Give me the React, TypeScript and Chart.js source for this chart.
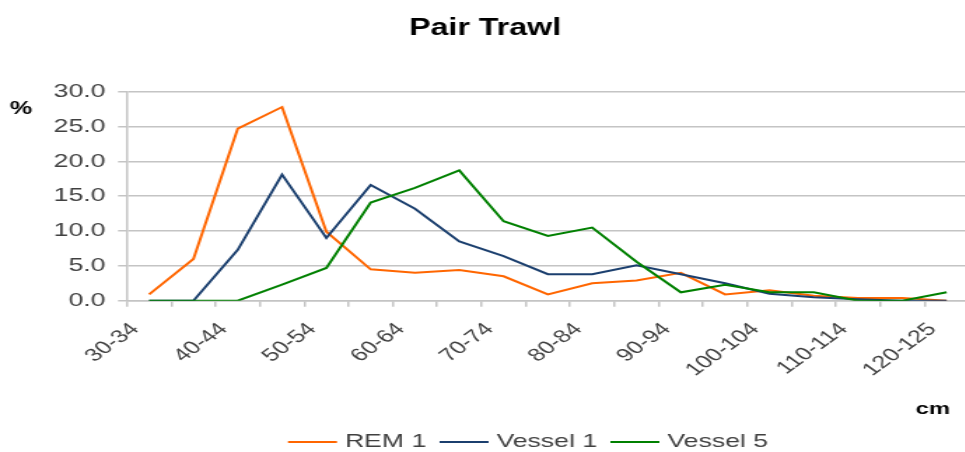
import React, { useEffect, useRef } from 'react';
import { Chart, registerables } from 'chart.js';

Chart.register(...registerables);

const categories = [
  '30-34', '35-39', '40-44', '45-49', '50-54', '55-59', '60-64', '65-69', '70-74', '75-79',
  '80-84', '85-89', '90-94', '95-99', '100-104', '105-109', '110-114', '115-119', '120-125',
];
const rem1 = [0.9, 6.0, 24.7, 27.8, 9.9, 4.5, 4.0, 4.4, 3.5, 0.9, 2.5, 2.9, 4.0, 0.9, 1.5, 0.7, 0.4, 0.4, 0.0];
const vessel1 = [0, 0, 7.3, 18.1, 9.0, 16.6, 13.2, 8.5, 6.4, 3.8, 3.8, 5.1, 3.8, 2.5, 1.0, 0.5, 0.2, 0.0, 0.0];
const vessel5 = [0, 0, 0, 2.3, 4.7, 14.1, 16.2, 18.7, 11.4, 9.3, 10.5, 5.6, 1.2, 2.3, 1.2, 1.2, 0, 0, 1.2];
const seriesNames = ['REM 1', 'Vessel 1', 'Vessel 5'];
const seriesColors = ['#FF6600', '#1B3F6E', '#008000'];
const yMin = 0;
const yMax = 30;
const yStep = 5;
const titleText = 'Pair Trawl';
const yUnit = '%';
const xUnit = 'cm';

const FONT = '"Liberation Sans", Arial, Helvetica, sans-serif';

const overlay = {
  id: 'overlay',
  afterDraw(chart: any) {
    const ctx = chart.ctx as CanvasRenderingContext2D;
    ctx.save();
    ctx.fillStyle = '#000';
    ctx.textAlign = 'center';
    ctx.textBaseline = 'middle';
    ctx.font = `bold 18px ${FONT}`;
    ctx.fillText(yUnit, 15, 109);
    ctx.font = `bold 17px ${FONT}`;
    ctx.fillText(xUnit, 666.4, 409.5);

    ctx.font = `19px ${FONT}`;
    ctx.textAlign = 'left';
    ctx.textBaseline = 'alphabetic';
    let x = 205.7;
    chart.data.datasets.forEach((ds: any) => {
      ctx.strokeStyle = ds.borderColor;
      ctx.lineWidth = 2;
      ctx.beginPath();
      ctx.moveTo(x, 442);
      ctx.lineTo(x + 35, 442);
      ctx.stroke();
      ctx.fillStyle = '#404040';
      ctx.fillText(ds.label, x + 40.7, 447);
      x += 40.7 + ctx.measureText(ds.label).width + 9.5;
    });
    ctx.restore();
  },
};

export default function App() {
  const ref = useRef<HTMLCanvasElement>(null);
  useEffect(() => {
    const seriesData = [rem1, vessel1, vessel5];
    const chart = new Chart(ref.current as HTMLCanvasElement, {
      type: 'line',
      data: {
        labels: categories,
        datasets: seriesNames.map((name, i) => ({
          label: name,
          data: seriesData[i],
          borderColor: seriesColors[i],
          backgroundColor: seriesColors[i],
          borderWidth: 2,
          pointRadius: 0,
          tension: 0,
          fill: false,
          order: 3 - i,
        })),
      },
      options: {
        responsive: true,
        maintainAspectRatio: false,
        animation: false,
        layout: { padding: 0 },
        plugins: {
          legend: { display: false },
          tooltip: { enabled: false },
          title: {
            display: true,
            text: titleText,
            color: '#000',
            font: { family: FONT, size: 23, weight: 'bold' },
            padding: { top: 15, bottom: 49.1 },
          },
        },
        scales: {
          x: {
            type: 'category',
            offset: true,
            grid: {
              display: true,
              drawOnChartArea: false,
              drawTicks: true,
              tickLength: 6,
              offset: true,
              color: '#c4c4c4',
              lineWidth: 1.5,
            },
            border: { display: true, color: '#c4c4c4', width: 1.5 },
            ticks: {
              autoSkip: false,
              maxRotation: 45,
              minRotation: 45,
              padding: 12,
              labelOffset: -10,
              color: '#404040',
              font: { family: FONT, size: 18 },
              callback: (_v: any, i: number) => (i % 2 === 0 ? categories[i] : ''),
            },
            afterFit: (s: any) => {
              s.height = 151.3;
              s.paddingLeft = 0;
              s.paddingRight = 0;
            },
          },
          y: {
            min: yMin,
            max: yMax,
            ticks: {
              stepSize: yStep,
              padding: 9,
              color: '#404040',
              font: { family: FONT, size: 19 },
              callback: (v: any) => Number(v).toFixed(1),
            },
            grid: { color: '#c4c4c4', lineWidth: 1.5, tickLength: 6.4, drawTicks: true },
            border: { display: true, color: '#c4c4c4', width: 1.5 },
            afterFit: (s: any) => {
              s.width = 90.7;
            },
          },
        },
      } as any,
      plugins: [overlay],
    });
    return () => chart.destroy();
  }, []);

  return (
    <div
      style={{
        position: 'fixed',
        left: 0,
        top: 0,
        width: 965,
        height: 452,
        overflow: 'hidden',
        background: '#fff',
      }}
    >
      <div
        style={{
          position: 'absolute',
          left: 0,
          top: 0,
          width: 693,
          height: 452,
          transform: 'scaleX(1.4)',
          transformOrigin: '0 0',
        }}
      >
        <canvas ref={ref} />
      </div>
    </div>
  );
}
